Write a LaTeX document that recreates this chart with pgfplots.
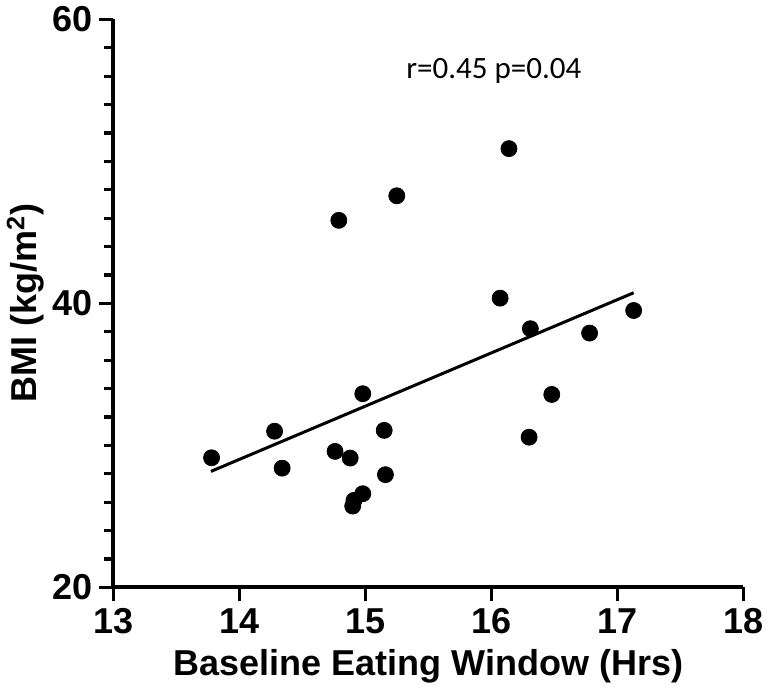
\documentclass[border=0pt]{standalone}
\usepackage{pgfplots}
\pgfplotsset{compat=1.18}
\usepackage{fontspec}
\setmainfont{Liberation Sans}
\newfontfamily\annfont{Carlito}

\begin{document}
\begin{tikzpicture}
\begin{axis}[
    scale only axis,
    width=315pt, height=284pt,
    xmin=13, xmax=18,
    ymin=20, ymax=60,
    xtick={13,14,15,16,17,18},
    ytick={20,40,60},
    minor ytick={22,24,...,38,42,44,...,58},
    axis lines=left,
    axis line style={-, line width=2pt},
    tick align=outside,
    major tick length=7pt,
    minor tick length=4.5pt,
    tick style={black, line width=1.6pt},
    tick label style={font=\bfseries\fontsize{18}{18}\selectfont},
    /pgf/number format/assume math mode=true,
    xlabel={\bfseries Baseline Eating Window (Hrs)},
    ylabel={\bfseries BMI (kg/m\textsuperscript{2})},
    label style={font=\bfseries\fontsize{18}{18}\selectfont},
    xlabel style={yshift=-1pt},
    ylabel style={yshift=-3pt},
    clip=false,
]
% data points
\addplot[only marks, mark=*, mark size=4pt, black] coordinates {
    (13.78,29.13) (14.28,31.0) (14.34,28.4) (14.79,45.85) (15.25,47.58)
    (14.98,33.64) (14.76,29.58) (14.88,29.11) (15.15,31.06) (15.16,27.94)
    (14.98,26.6) (14.91,26.13) (14.90,25.73)
    (16.14,50.9) (16.07,40.37) (16.31,38.22) (16.78,37.91) (17.13,39.5)
    (16.48,33.59) (16.30,30.58)
};
% regression line
\addplot[black, line width=1.5pt] coordinates {(13.775,28.17) (17.13,40.75)};
\node[font=\annfont\fontsize{15.5}{15.5}\selectfont] at (axis cs:16.02,56.4) {r=0.45 p=0.04};
\end{axis}
\end{tikzpicture}
\end{document}
